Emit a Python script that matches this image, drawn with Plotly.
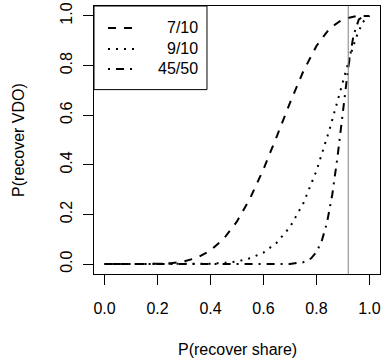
import plotly.graph_objects as go

# ---- data ----
p_7of10 = [0.0, 0.05, 0.10, 0.15, 0.20, 0.25, 0.30, 0.35, 0.40, 0.45, 0.50,
           0.55, 0.60, 0.65, 0.70, 0.75, 0.80, 0.85, 0.90, 0.95, 1.0]
v_7of10 = [0.0, 0.0, 0.0, 0.0001, 0.0009, 0.0035, 0.0106, 0.0260, 0.0548, 0.1020, 0.1719,
           0.2660, 0.3823, 0.5138, 0.6496, 0.7759, 0.8791, 0.9500, 0.9872, 0.9990, 1.0]

p_9of10 = [0.0, 0.05, 0.10, 0.15, 0.20, 0.25, 0.30, 0.35, 0.40, 0.45, 0.50,
           0.55, 0.60, 0.65, 0.70, 0.75, 0.80, 0.85, 0.90, 0.925, 0.95, 0.975, 1.0]
v_9of10 = [0.0, 0.0, 0.0, 0.0, 0.0, 0.0, 0.0001, 0.0005, 0.0017, 0.0045, 0.0107,
           0.0233, 0.0464, 0.0860, 0.1493, 0.2440, 0.3758, 0.5443, 0.7361, 0.8304, 0.9139, 0.9754, 1.0]

p_45of50 = [0.0, 0.05, 0.10, 0.15, 0.20, 0.25, 0.30, 0.35, 0.40, 0.45, 0.50,
            0.55, 0.60, 0.65, 0.70, 0.75, 0.78, 0.80, 0.82, 0.84, 0.86, 0.88,
            0.90, 0.92, 0.94, 0.96, 0.98, 1.0]
v_45of50 = [0.0, 0.0, 0.0, 0.0, 0.0, 0.0, 0.0, 0.0, 0.0, 0.0, 0.0,
            0.0, 0.0, 0.0, 0.0007, 0.0071, 0.0233, 0.0481, 0.0930, 0.1678, 0.2815, 0.4356,
            0.6161, 0.7919, 0.9224, 0.9856, 0.9995, 1.0]

series_names = ["7/10", "9/10", "45/50"]
threshold = 0.92
tick_vals = [0.0, 0.2, 0.4, 0.6, 0.8, 1.0]
tick_text = ["0.0", "0.2", "0.4", "0.6", "0.8", "1.0"]

FONT = "Liberation Sans, Arial, Helvetica, sans-serif"
dashes = ["8px,8px", "2px,6px", "2px,6px,8px,6px"]

fig = go.Figure()
for xs, ys, name, d in zip([p_7of10, p_9of10, p_45of50],
                           [v_7of10, v_9of10, v_45of50], series_names, dashes):
    fig.add_trace(go.Scatter(x=xs, y=ys, mode="lines", name=name,
                             line=dict(color="black", width=2, dash=d),
                             showlegend=False))

shapes = [dict(type="line", xref="x", yref="paper", x0=threshold, x1=threshold,
               y0=0, y1=1, line=dict(color="#808080", width=1))]

# manual legend (box, samples, labels)
shapes.append(dict(type="rect", xref="paper", yref="paper", x0=0, x1=0.395,
                   y0=0.688, y1=1, line=dict(color="black", width=1),
                   fillcolor="white", layer="above"))
row_y = [0.918, 0.840, 0.765]
annotations = []
for yy, name, d in zip(row_y, series_names, dashes):
    shapes.append(dict(type="line", xref="paper", yref="paper", x0=0.049, x1=0.143,
                       y0=yy, y1=yy, line=dict(color="black", width=2, dash=d),
                       layer="above"))
    annotations.append(dict(xref="paper", yref="paper", x=0.371, y=yy, text=name,
                            showarrow=False, xanchor="right", yanchor="middle",
                            font=dict(family=FONT, size=16, color="black")))

annotations.append(dict(xref="paper", yref="paper", x=0.5, y=-0.28, text="P(recover share)",
                        showarrow=False, xanchor="center", yanchor="middle",
                        font=dict(family=FONT, size=16, color="black")))
annotations.append(dict(xref="paper", yref="paper", x=-0.266, y=0.5, text="P(recover VDO)",
                        showarrow=False, xanchor="center", yanchor="middle", textangle=-90,
                        font=dict(family=FONT, size=16, color="black")))

axis_common = dict(showgrid=False, zeroline=False, showline=True, mirror=True,
                   linecolor="black", linewidth=1, ticks="outside", ticklen=10,
                   tickcolor="black", tickwidth=1, tickvals=tick_vals, ticktext=tick_text,
                   tickfont=dict(family=FONT, size=16, color="black"))

fig.update_layout(
    width=383, height=360,
    margin=dict(l=94, r=3, t=6, b=86, autoexpand=False),
    paper_bgcolor="white", plot_bgcolor="white",
    xaxis=dict(range=[-0.04, 1.04], ticklabelstandoff=10, automargin=False, **axis_common),
    yaxis=dict(range=[-0.04, 1.04], tickangle=-90, ticklabelstandoff=5,
               automargin=False, **axis_common),
    shapes=shapes, annotations=annotations,
    font=dict(family=FONT, size=16, color="black"),
)

fig.write_html("out.html", config={"displayModeBar": False},
               post_script="document.body.style.margin='0';document.body.style.padding='0';")
